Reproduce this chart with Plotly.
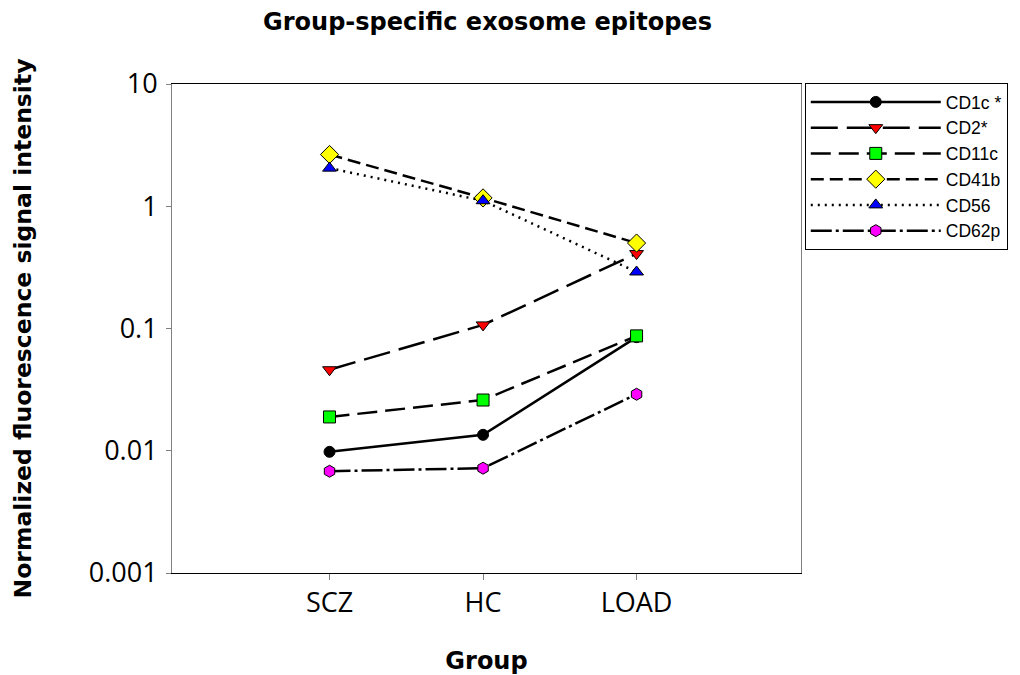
import plotly.graph_objects as go

groups = ["SCZ", "HC", "LOAD"]
series_names = ["CD1c *", "CD2*", "CD11c", "CD41b", "CD56", "CD62p"]
cd1c = [0.0098, 0.0135, 0.085]
cd2 = [0.046, 0.107, 0.41]
cd11c = [0.0189, 0.026, 0.087]
cd41b = [2.65, 1.17, 0.50]
cd56 = [2.05, 1.11, 0.29]
cd62p = [0.0068, 0.0072, 0.029]
y_ticks = [0.001, 0.01, 0.1, 1, 10]
y_ticktext = ["0.001", "0.01", "0.1", "1", "10"]

values = [cd1c, cd2, cd11c, cd41b, cd56, cd62p]
symbols = ["circle", "triangle-down", "square", "diamond", "triangle-up", "hexagon"]
fills = ["#000000", "#ff0000", "#00ff00", "#ffff00", "#0000ff", "#ff00ff"]
dashes = ["solid", "27px,9px", "20px,8px", "13px,6px", "2px,5px", "21px,4px,3px,4px"]
sizes = [11, 12, 12, 14, 12, 12]

fig = go.Figure()
for name, vals, sym, fc, dash, sz in zip(series_names, values, symbols, fills, dashes, sizes):
    fig.add_trace(go.Scatter(
        x=groups, y=vals, name=name, mode="lines+markers",
        line=dict(color="black", width=2.5, dash=dash),
        marker=dict(symbol=sym, size=sz, color=fc, line=dict(color="black", width=1)),
    ))

fig.update_layout(
    width=1012, height=667,
    margin=dict(l=164, r=217, t=76, b=102),
    paper_bgcolor="white", plot_bgcolor="white",
    title=dict(text="<b>Group-specific exosome epitopes</b>", x=0.4738, xanchor="center",
               y=0.979, yanchor="middle",
               font=dict(family="DejaVu Sans", size=24, color="black")),
    xaxis=dict(
        type="category", range=[-1.026, 3.071], automargin=False,
        showline=True, linecolor="black", linewidth=1, mirror=True,
        ticks="outside", ticklen=6, tickcolor="#808080",
        tickfont=dict(family="Open Sans", size=27, color="black"),
        ticklabelstandoff=0,
        showgrid=False, zeroline=False,
        title=dict(text="<b>Group</b>", font=dict(family="DejaVu Sans", size=24, color="black"), standoff=36),
    ),
    yaxis=dict(
        type="log", range=[-3, 1], automargin=False,
        tickvals=y_ticks, ticktext=y_ticktext,
        showline=True, linecolor="#808080", linewidth=1, mirror=True,
        ticks="outside", ticklen=5, tickcolor="#808080",
        tickfont=dict(family="Open Sans", size=27, color="black"),
        ticklabelstandoff=3,
        showgrid=False, zeroline=False,
        title=dict(text="<b>Normalized fluorescence signal intensity</b>",
                   font=dict(family="DejaVu Sans", size=23.5, color="black"), standoff=50),
    ),
    legend=dict(
        x=1.006, y=1.002, xanchor="left", yanchor="top",
        bordercolor="black", borderwidth=1, bgcolor="white",
        font=dict(family="Liberation Sans", size=17.5, color="black"),
        itemwidth=130, tracegroupgap=0,
    ),
    showlegend=True,
)

fig.write_html("out.html")
